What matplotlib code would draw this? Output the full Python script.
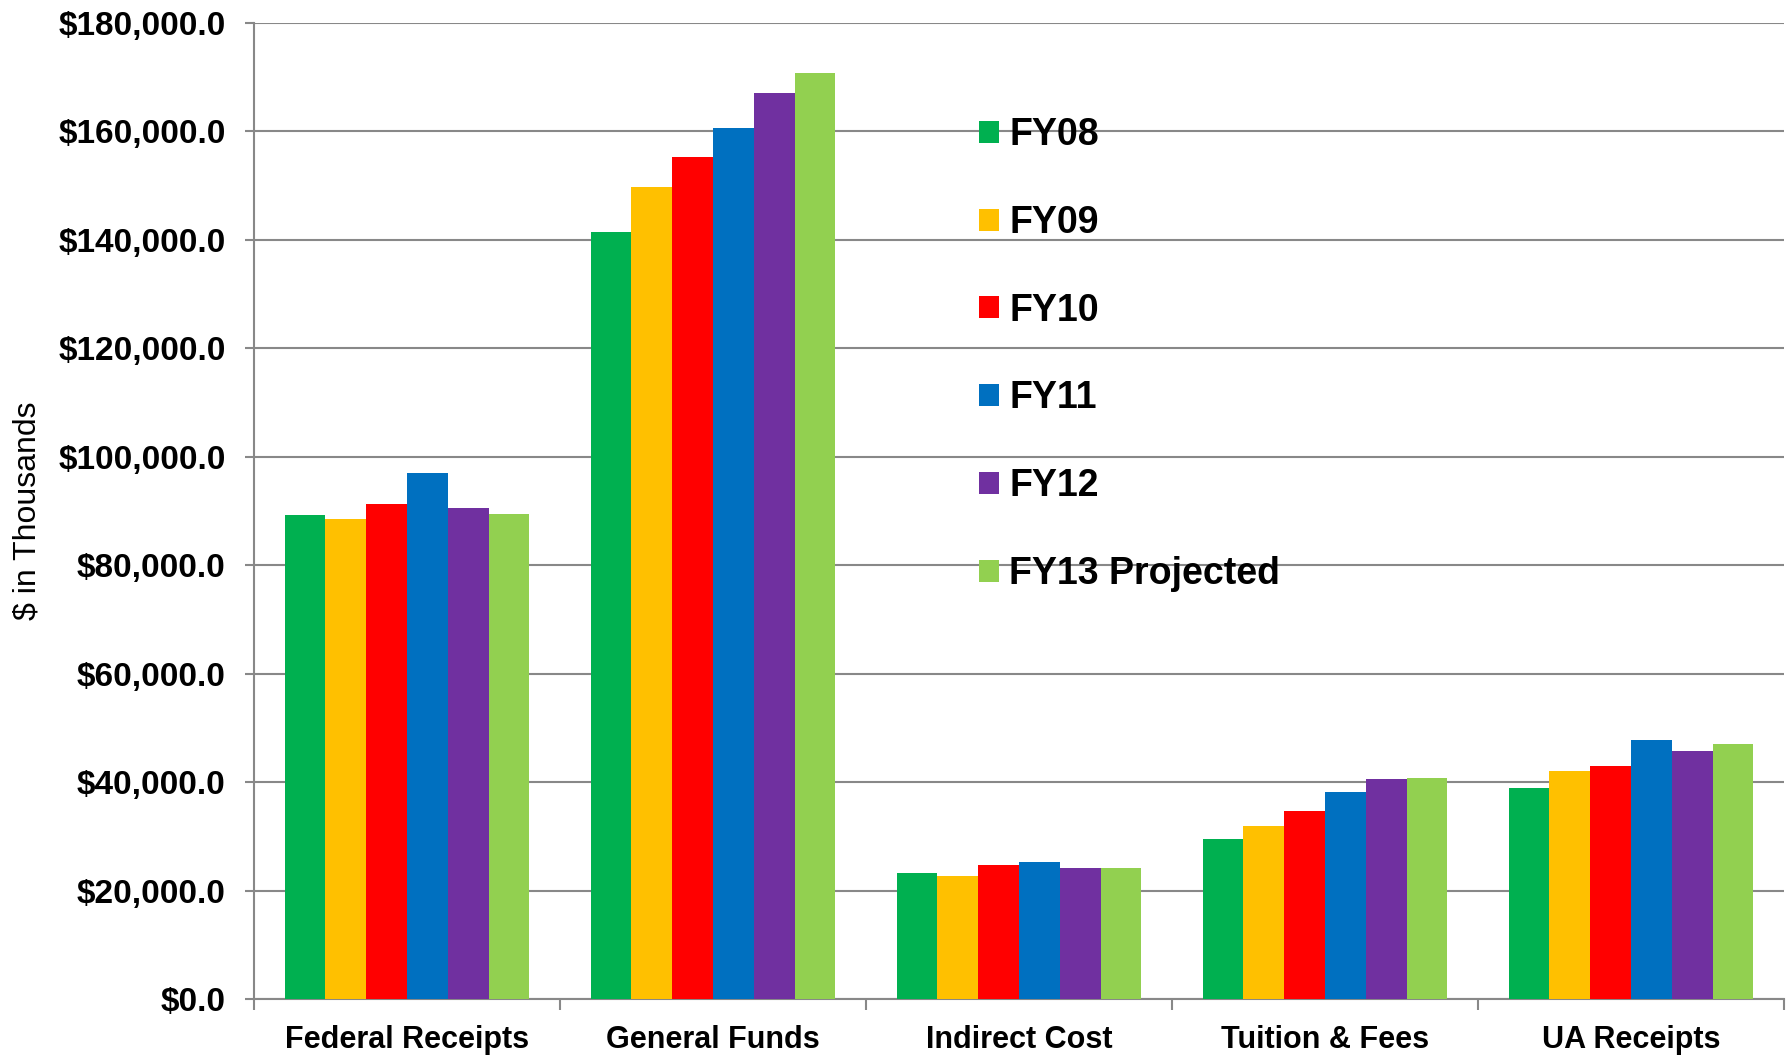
import numpy as np
import matplotlib.pyplot as plt
from matplotlib.ticker import FuncFormatter, MultipleLocator

# data ($ in thousands)
categories = ["Federal Receipts", "General Funds", "Indirect Cost", "Tuition & Fees", "UA Receipts"]
years = ["FY08", "FY09", "FY10", "FY11", "FY12", "FY13 Projected"]

fy08 = [89300, 141500, 23200, 29600, 39000]
fy09 = [88600, 149800, 22600, 31900, 42100]
fy10 = [91300, 155300, 24800, 34600, 42900]
fy11 = [97100, 160700, 25300, 38200, 47800]
fy12 = [90500, 167100, 24200, 40600, 45800]
fy13 = [89400, 170700, 24200, 40800, 47000]

colors = ["#00B050", "#FFC000", "#FF0000", "#0070C0", "#7030A0", "#92D050"]
grey = "#888888"

plt.rcParams["font.family"] = ["Liberation Sans", "DejaVu Sans"]

fig = plt.figure(figsize=(17.92, 10.55), dpi=100)
ax = fig.add_axes([254 / 1792, 1 - 999 / 1055, 1530 / 1792, 976 / 1055])

x = np.arange(len(categories))
w = 0.8 / len(years)
series = [fy08, fy09, fy10, fy11, fy12, fy13]
for j, (vals, name, c) in enumerate(zip(series, years, colors)):
    ax.bar(x + (j - 2.5) * w, vals, width=w, color=c, label=name, zorder=3)

ax.set_xlim(-0.5, len(categories) - 0.5)
ax.set_ylim(0, 180000)
ax.yaxis.set_major_locator(MultipleLocator(20000))
ax.yaxis.set_major_formatter(FuncFormatter(lambda v, p: "${:,.1f}".format(v)))
ax.grid(axis="y", color=grey, linewidth=1.5, zorder=0)

ax.set_xticks(x)
ax.set_xticklabels(categories)
ax.set_xticks(np.arange(len(categories) + 1) - 0.5, minor=True)
ax.tick_params(axis="x", which="major", length=0, pad=19, labelsize=22)
ax.tick_params(axis="x", which="minor", length=8, width=1.5, color=grey)
ax.tick_params(axis="y", length=6.5, width=1.5, color=grey, pad=14, labelsize=24)
for lab in ax.get_xticklabels() + ax.get_yticklabels():
    lab.set_fontweight("bold")

for s in ["top", "right"]:
    ax.spines[s].set_visible(False)
for s in ["left", "bottom"]:
    ax.spines[s].set_color(grey)
    ax.spines[s].set_linewidth(1.5)

ax.set_ylabel("$ in Thousands", fontsize=23)
ax.yaxis.set_label_coords(-0.138, 0.5)

leg = ax.legend(loc="center left", bbox_to_anchor=(979 / 1792, 1 - 354.5 / 1055),
                bbox_transform=fig.transFigure, frameon=False,
                prop={"size": 27, "weight": "bold"},
                handlelength=0.53, handleheight=0.53, handletextpad=0.28,
                labelspacing=1.38, borderpad=0, borderaxespad=0)

fig.savefig("out.png", dpi=100)
